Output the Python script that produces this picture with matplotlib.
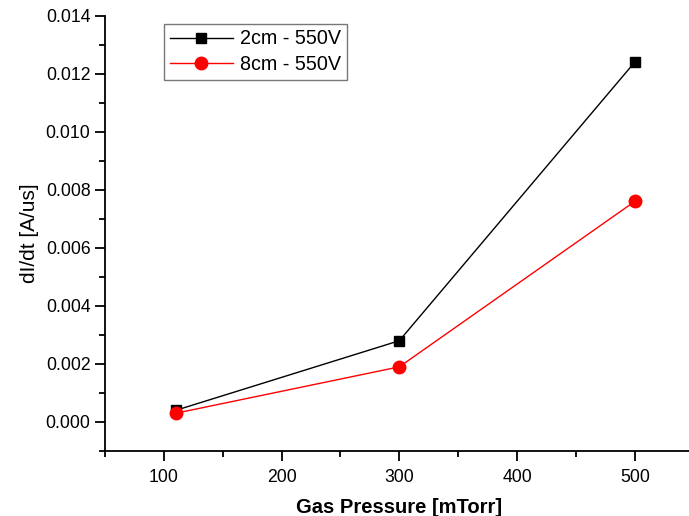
import matplotlib
matplotlib.use('Agg')
import matplotlib.pyplot as plt
from matplotlib.ticker import MultipleLocator

plt.rcParams['font.family'] = ['Liberation Sans', 'DejaVu Sans']

pressure = [110, 300, 500]
didt_2cm = [0.0004, 0.0028, 0.0124]
didt_8cm = [0.0003, 0.0019, 0.0076]

fig = plt.figure(figsize=(6.89, 5.16), dpi=100)
# axes runs slightly past the right edge like in the original export
ax = fig.add_axes([105/689, (516-451)/516, (693.6-105)/689, (451-15.7)/516])

ax.plot(pressure, didt_2cm, color='black', lw=1, marker='s', ms=7.5,
        label='2cm - 550V')
ax.plot(pressure, didt_8cm, color='red', lw=1, marker='o', ms=9,
        label='8cm - 550V')

ax.set_xlim(50, 550)
ax.set_ylim(-0.001, 0.014)
ax.xaxis.set_major_locator(MultipleLocator(100))
ax.xaxis.set_minor_locator(MultipleLocator(50))
ax.yaxis.set_major_locator(MultipleLocator(0.002))
ax.yaxis.set_minor_locator(MultipleLocator(0.001))
ax.yaxis.set_major_formatter(plt.FuncFormatter(lambda v, p: f'{v:.3f}'))

for s in ['top', 'right']:
    ax.spines[s].set_visible(False)
for s in ['left', 'bottom']:
    ax.spines[s].set_linewidth(1.3)
ax.tick_params(which='major', direction='out', length=7, width=1.3, labelsize=12.7)
ax.tick_params(axis='x', which='major', pad=6)
ax.tick_params(which='minor', direction='out', length=4, width=1.3)

ax.set_xlabel('Gas Pressure [mTorr]', fontsize=14.5, fontweight='bold', labelpad=8.5)
ax.set_ylabel('dI/dt [A/us]', fontsize=15, labelpad=5)

leg = ax.legend(loc='upper left', bbox_to_anchor=(0.1, 0.982), fontsize=14.2,
                frameon=True, fancybox=False, edgecolor='#555555',
                handlelength=3.2, borderpad=0.3, labelspacing=0.35,
                handletextpad=0.35, borderaxespad=0)
leg.get_frame().set_linewidth(1)

plt.savefig('out.png', dpi=100)
